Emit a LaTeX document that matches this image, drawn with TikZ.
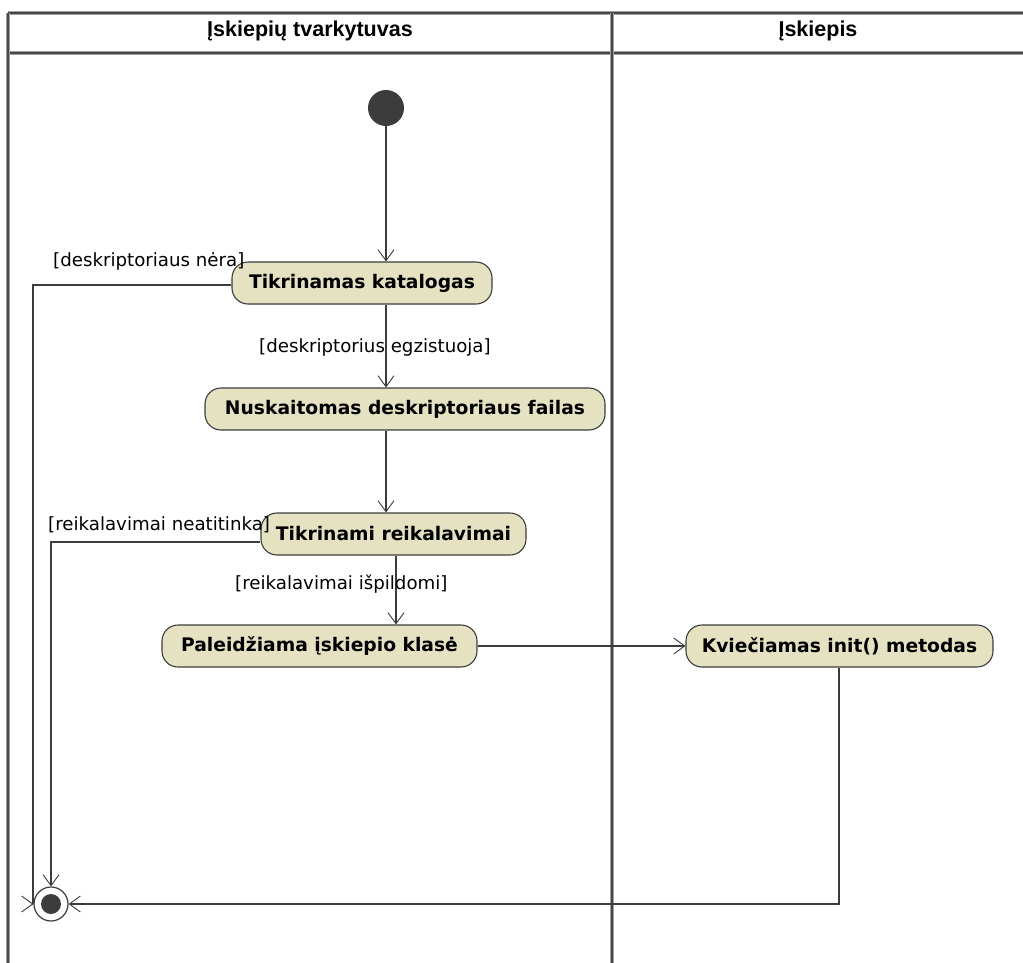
\documentclass[tikz,border=0pt]{standalone}
\usepackage{fontspec}
\setmainfont{Liberation Sans}
\newfontfamily\labelfont{DejaVu Sans}
\usetikzlibrary{arrows.meta}
\definecolor{actfill}{RGB}{228,226,192}
\definecolor{ink}{RGB}{60,60,60}
\definecolor{lanedark}{RGB}{70,70,70}
\definecolor{lanelight}{RGB}{160,160,160}
\tikzset{
  lane/.style={draw=lanelight, line width=1pt, double=lanedark, double distance=2pt},
  act/.style={draw=ink, line width=1.1pt, fill=actfill, rounded corners=16pt,
    minimum height=42pt, inner sep=0pt, font=\labelfont\fontsize{18.7}{20}\selectfont\bfseries},
  lanetitle/.style={font=\fontsize{21.5}{23}\selectfont\bfseries, inner sep=0pt},
  guard/.style={font=\labelfont\fontsize{18.2}{20}\selectfont, inner sep=0pt},
  flow/.style={draw=ink, line width=1.2pt, -{Straight Barb[length=11pt,width=16pt,line width=0.9pt]}},
  startnode/.style={circle, fill=ink, minimum size=36pt, inner sep=0pt},
  endring/.style={circle, draw=ink, line width=1.2pt, fill=white, minimum size=34pt, inner sep=0pt},
}
\begin{document}
\begin{tikzpicture}[x=1pt, y=-1pt]
\useasboundingbox (0,0) rectangle (1023,962);
\fill[white] (0,0) rectangle (1023,962);

% swimlane frame
\draw[lane] (8,12.5) -- (1030,12.5);
\draw[lane] (8,53) -- (1030,53);
\draw[lane] (8,12.5) -- (8,970);
\draw[lane] (612,12.5) -- (612,970);
\node[lanetitle] (lane1) at (310,31) {Įskiepių tvarkytuvas};
\node[lanetitle] (lane2) at (818,31) {Įskiepis};

% nodes
\node[startnode] (init) at (386,108) {};
\node[act, minimum width=260pt] (tk) at (362,283) {Tikrinamas katalogas};
\node[act, minimum width=400pt] (nd) at (405,409) {Nuskaitomas deskriptoriaus failas};
\node[act, minimum width=265pt] (tr) at (393.5,534) {Tikrinami reikalavimai};
\node[act, minimum width=315pt] (pal) at (319.5,646) {Paleidžiama įskiepio klasė};
\node[act, minimum width=307pt] (kv) at (839.5,646) {Kviečiamas init() metodas};
\node[endring] (fin) at (51,904) {};
\fill[ink] (fin) circle (10pt);

% helper points for the bent flows
\coordinate (c1) at (33,285);
\coordinate (c2) at (51,542);
\coordinate (c3) at (839,904);

% flows
\draw[flow] (init.south) -- (init.south |- tk.north);
\draw[flow] (tk.south -| init.south) -- (nd.north -| init.south);
\draw[flow] (nd.south -| init.south) -- (tr.north -| init.south);
\draw[flow] (tr.south -| 396,0) -- (pal.north -| 396,0);
\draw[flow] (pal.east) -- (kv.west);
\draw[draw=ink, line width=1.2pt] (tk.west |- c1) -- (c1) -- (c1 |- fin);
\draw[flow] (c1 |- fin) -- (fin.west);
\draw[flow] (tr.west |- c2) -- (c2) -- (fin.north);
\draw[flow] (kv.south -| c3) -- (c3) -- (fin.east);

% guards
\node[guard, anchor=base west] (g1) at (53,266) {[deskriptoriaus nėra]};
\node[guard, anchor=base west] (g2) at (259,352) {[deskriptorius egzistuoja]};
\node[guard, anchor=base west] (g3) at (48,530) {[reikalavimai neatitinka]};
\node[guard, anchor=base west] (g4) at (235,589) {[reikalavimai išpildomi]};
\end{tikzpicture}
\end{document}
